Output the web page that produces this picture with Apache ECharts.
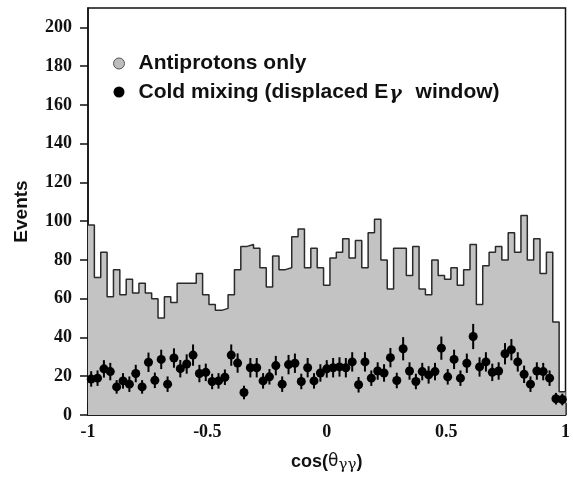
<!DOCTYPE html>
<html><head><meta charset="utf-8">
<script src="https://cdn.jsdelivr.net/npm/echarts@6/dist/echarts.min.js"></script>
<style>html,body{margin:0;padding:0;background:#fff}#c{width:573px;height:478px}</style>
</head><body><div id="c"></div>
<script>
// ---- data ----
const xRange = [-1, 1];
const antiprotonCounts = [
  98, 71, 84, 61, 75, 62, 70, 63, 68, 63,
  60, 50, 61, 58, 68, 68, 68, 73, 62, 57,
  54, 55, 62, 75, 87, 88, 86, 76, 66, 82,
  75, 76, 92, 96, 76, 86, 76, 67, 81, 84,
  91, 81, 90, 76, 94, 101, 80, 65, 86, 86,
  72, 87, 65, 62, 80, 72, 70, 76, 67, 75,
  88, 57, 77, 84, 87, 80, 94, 84, 103, 80,
  91, 73, 84, 48, 12
];
const coldMixingCounts = [
  18.6, 19, 23.8, 22.4, 14.5, 17.6, 15.9, 21.4, 14.5, 27.2,
  17.9, 28.7, 15.9, 29.4, 23.9, 26.3, 30.9, 21.4, 22, 17.3,
  17.6, 19.5, 30.9, 26.8, 11.6, 24.4, 24.4, 17.6, 19.7, 25.5,
  15.9, 26, 26.7, 17.3, 24.4, 17.6, 21.7, 23.8, 24.4, 24.8,
  24.4, 27.4, 15.6, 27.4, 19, 22.7, 21.7, 29.6, 17.8, 34.2,
  22.7, 17.3, 22.4, 20.7, 22.4, 34.5, 19.7, 28.7, 19, 26.7,
  40.5, 24.8, 27.4, 22, 22.7, 31.6, 33.7, 27.4, 21, 15.9,
  22.7, 22.4, 19, 8.4, 8
];
const coldMixingErrors = [
  4, 4, 4.5, 4.5, 3.5, 4, 4, 4.5, 3.5, 5,
  4, 5, 4, 5, 4.5, 5, 5.5, 4.5, 4.5, 4,
  4, 4, 5.5, 5, 3.5, 5, 5, 4, 4, 5,
  4, 5, 5, 4, 5, 4, 4.5, 4.5, 5, 5,
  5, 5, 4, 5, 4, 4.5, 4.5, 5, 4, 6,
  4.5, 4, 4.5, 4.5, 4.5, 6, 4, 5, 4, 5,
  6.5, 5, 5, 4.5, 4.5, 5.5, 5.5, 5, 4.5, 4,
  4.5, 4.5, 4, 3, 3
];
const yTickValues = [0, 20, 40, 60, 80, 100, 120, 140, 160, 180, 200];
const seriesNames = ['Antiprotons only', 'Cold mixing (displaced E\u03b3 window)'];

// ---- build library inputs ----
const nBins = antiprotonCounts.length;
const binW = (xRange[1] - xRange[0]) / nBins;
const histData = antiprotonCounts.map((v, i) => [xRange[0] + i * binW, v]);
histData.push([xRange[1], antiprotonCounts[nBins - 1]]);
const dotData = coldMixingCounts.map((v, i) => [xRange[0] + (i + 0.5) * binW, v]);
const errData = coldMixingCounts.map((v, i) => [xRange[0] + (i + 0.5) * binW, v - coldMixingErrors[i], v + coldMixingErrors[i]]);

const sans = '"Liberation Sans", Arial, Helvetica, sans-serif';
const serif = '"Liberation Serif", "Times New Roman", serif';

const chart = echarts.init(document.getElementById('c'), null, {renderer: 'canvas'});
chart.setOption({
  animation: false,
  backgroundColor: '#fff',
  grid: {left: 88, right: 3, top: 8, bottom: 63, show: true, borderColor: '#111', borderWidth: 1.5, backgroundColor: 'transparent'},
  legend: {
    orient: 'vertical', left: 108, top: 48, itemWidth: 11, itemHeight: 11, itemGap: 5,
    data: [
      {name: seriesNames[0], icon: 'circle', itemStyle: {color: '#bdbdbd', borderColor: '#555', borderWidth: 1, opacity: 1}},
      {name: seriesNames[1], icon: 'circle', itemStyle: {color: '#000', opacity: 1}}
    ],
    formatter: function (name) {
      if (name === seriesNames[1]) return '{t|Cold mixing (displaced E}{g|\u03b3}{t| window)}';
      return '{t|' + name + '}';
    },
    textStyle: {
      padding: [0, 0, 0, 9],
      rich: {
        t: {fontFamily: sans, fontWeight: 'bold', fontSize: 21, color: '#111', lineHeight: 24},
        g: {fontFamily: '"DejaVu Serif", serif', fontStyle: 'italic', fontWeight: 'bold', fontSize: 19, color: '#111', lineHeight: 20, padding: [6, 8, 0, 1], verticalAlign: 'bottom'}
      }
    }
  },
  xAxis: {
    type: 'value', min: xRange[0], max: xRange[1], interval: 0.5,
    name: '{a|cos(}{b|\u03b8}{c|\u03b3\u03b3}{a|)}', nameLocation: 'middle', nameGap: 36,
    nameTextStyle: {
      rich: {
        a: {fontFamily: sans, fontWeight: 'bold', fontSize: 18, color: '#111', lineHeight: 22},
        b: {fontFamily: '"DejaVu Sans", sans-serif', fontSize: 17, color: '#111', lineHeight: 22},
        c: {fontFamily: '"DejaVu Serif", serif', fontSize: 15, color: '#111', lineHeight: 18, padding: [8, 0, 0, 0], verticalAlign: 'bottom'}
      }
    },
    axisLine: {show: true, onZero: false, lineStyle: {color: '#111', width: 1.5}},
    axisTick: {show: true, inside: true, length: 12, lineStyle: {color: '#111', width: 1.5}},
    minorTick: {show: true, splitNumber: 2, length: 6, lineStyle: {color: '#111', width: 1.5}},
    splitLine: {show: false},
    axisLabel: {fontFamily: serif, fontWeight: 'bold', fontSize: 18, color: '#111', margin: 8}
  },
  yAxis: {
    type: 'value', min: 0, max: 210, interval: 20,
    name: 'Events', nameLocation: 'middle', nameGap: 57, nameRotate: 90,
    nameTextStyle: {fontFamily: sans, fontWeight: 'bold', fontSize: 19, color: '#111'},
    axisLine: {show: true, onZero: false, lineStyle: {color: '#111', width: 1.5}},
    axisTick: {show: true, inside: false, length: 8, customValues: yTickValues, lineStyle: {color: '#111', width: 1.5}},
    splitLine: {show: false},
    axisLabel: {customValues: yTickValues, fontFamily: serif, fontWeight: 'bold', fontSize: 18, color: '#111', margin: 16}
  },
  series: [
    {
      name: seriesNames[0], type: 'line', step: 'end', data: histData, symbol: 'none',
      lineStyle: {color: '#2a2a2a', width: 1.5},
      itemStyle: {color: '#bdbdbd'},
      areaStyle: {color: '#c3c3c3', opacity: 1},
      z: 1
    },
    {
      name: 'errors', type: 'custom', data: errData, z: 3,
      encode: {x: 0, y: [1, 2]},
      renderItem: function (params, api) {
        const x = api.value(0);
        const p1 = api.coord([x, api.value(1)]);
        const p2 = api.coord([x, api.value(2)]);
        return {type: 'line', shape: {x1: p1[0], y1: p1[1], x2: p2[0], y2: p2[1]}, style: {stroke: '#000', lineWidth: 2}};
      }
    },
    {
      name: seriesNames[1], type: 'scatter', data: dotData, symbol: 'circle', symbolSize: 9,
      itemStyle: {color: '#000', opacity: 1}, z: 4
    }
  ]
});
</script>
</body></html>
